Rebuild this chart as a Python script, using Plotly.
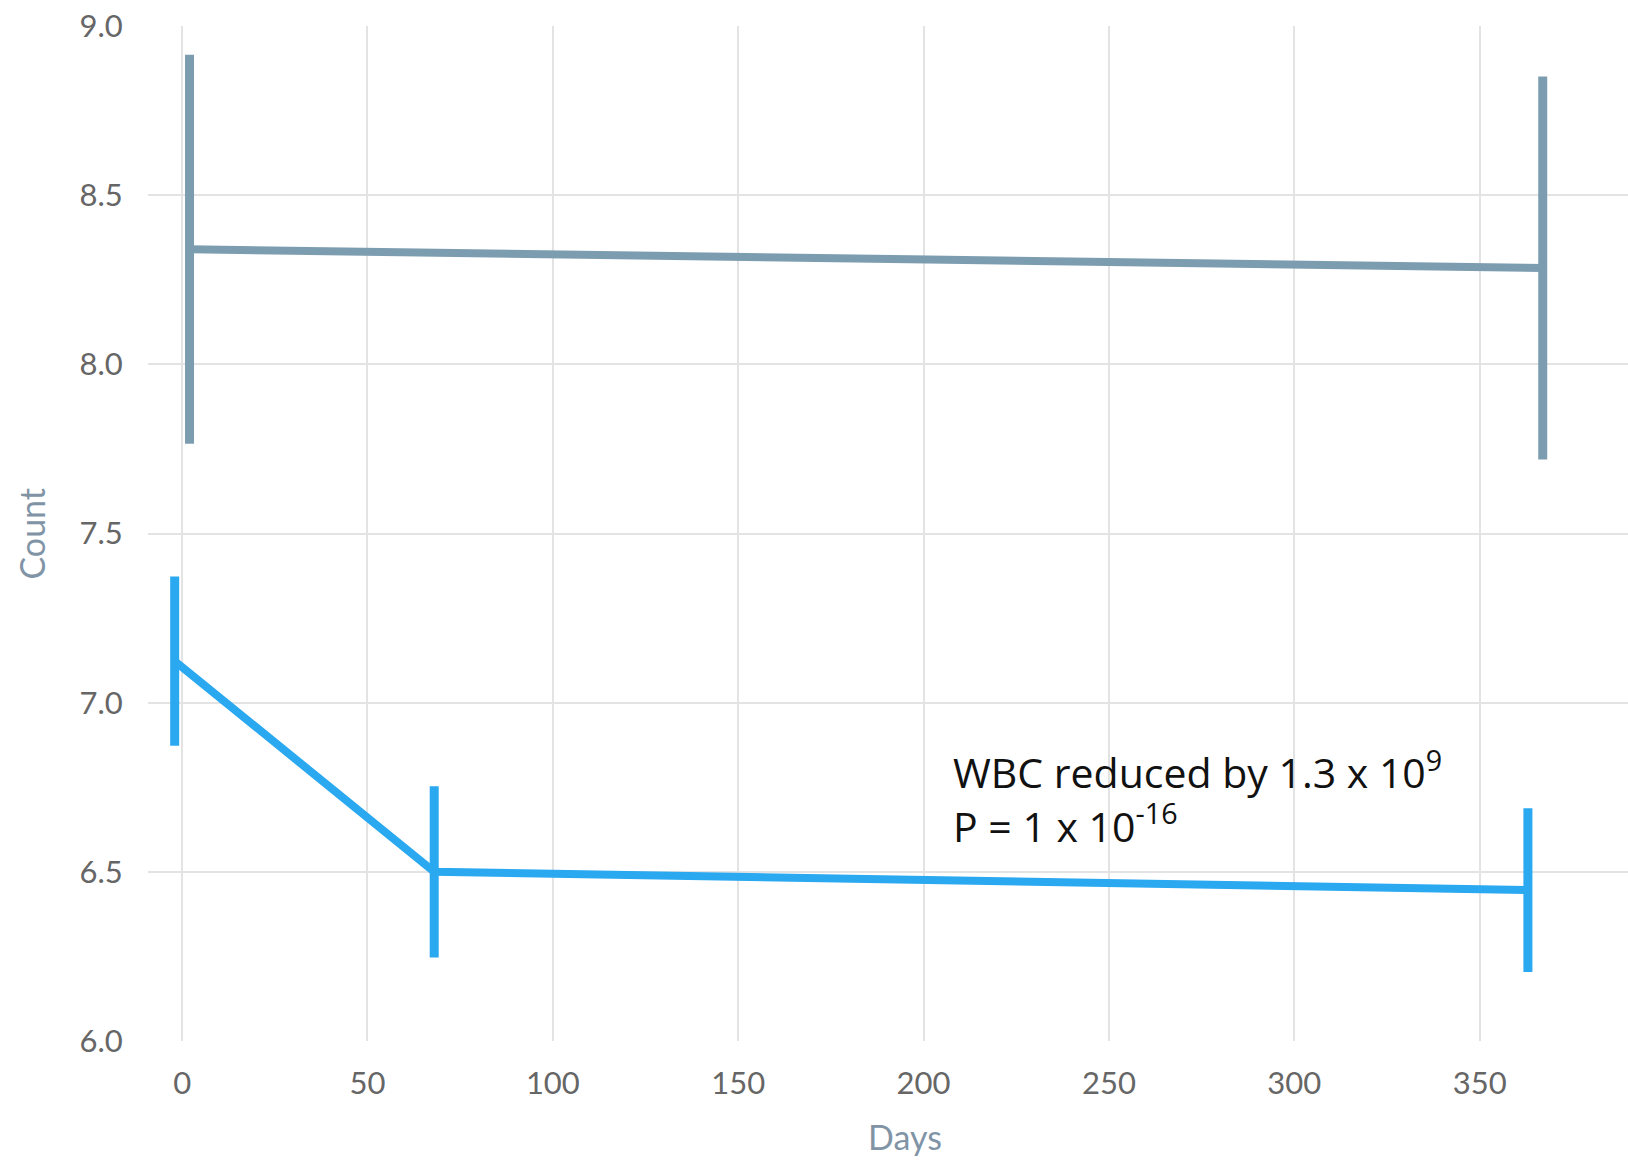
import plotly.graph_objects as go

# Data
grey_days = [2, 367]
grey_count = [8.34, 8.285]
grey_err = [0.575, 0.566]

blue_days = [-2, 68, 363]
blue_count = [7.123, 6.50, 6.446]
blue_err = [0.25, 0.253, 0.242]

x_ticks = [0, 50, 100, 150, 200, 250, 300, 350]
y_ticks = [6.0, 6.5, 7.0, 7.5, 8.0, 8.5, 9.0]

GREY = "#7c9db0"
BLUE = "#2aa8f0"
TITLE = "#8194a6"

fig = go.Figure()
fig.add_trace(go.Scatter(
    x=grey_days, y=grey_count, mode="lines",
    line=dict(color=GREY, width=8),
    error_y=dict(type="data", array=grey_err, color=GREY, thickness=9, width=0),
    showlegend=False, hoverinfo="skip",
))
fig.add_trace(go.Scatter(
    x=blue_days, y=blue_count, mode="lines",
    line=dict(color=BLUE, width=8),
    error_y=dict(type="data", array=blue_err, color=BLUE, thickness=9, width=0),
    showlegend=False, hoverinfo="skip",
))

fig.add_annotation(
    x=207.5, y=6.895, xref="x", yref="y", xanchor="left", yanchor="top",
    text="WBC reduced by 1.3 x 10<sup>9</sup><br>P = 1 x 10<sup>-16</sup>",
    showarrow=False, align="left",
    font=dict(family="Open Sans", size=41, color="#111111"),
)

# Axis titles
fig.add_annotation(
    x=0.5115, y=0, xref="paper", yref="paper", xanchor="center", yanchor="middle",
    yshift=-95, text="Days", showarrow=False,
    font=dict(family="Lato", size=34, color=TITLE),
)
fig.add_annotation(
    x=0, y=0.5, xref="paper", yref="paper", xanchor="center", yanchor="middle",
    xshift=-117, text="Count", textangle=-90, showarrow=False,
    font=dict(family="Lato", size=34, color=TITLE),
)

fig.update_layout(
    width=1628, height=1162,
    margin=dict(l=148, r=0, t=26, b=121),
    paper_bgcolor="white", plot_bgcolor="white",
    font=dict(family="Lato", color="#666666"),
    xaxis=dict(
        range=[-9.2, 390], tickvals=x_ticks, ticktext=[str(v) for v in x_ticks],
        showgrid=True, gridcolor="#e3e3e3", gridwidth=2, zeroline=False,
        showline=False, ticks="outside", ticklen=15, tickcolor="rgba(0,0,0,0)",
        tickfont=dict(size=31, color="#666666"),
    ),
    yaxis=dict(
        range=[6.0, 9.0], tickvals=y_ticks, ticktext=[f"{v:.1f}" for v in y_ticks],
        showgrid=True, gridcolor="#e3e3e3", gridwidth=2, zeroline=False,
        showline=False, ticks="outside", ticklen=18, tickcolor="rgba(0,0,0,0)",
        tickfont=dict(size=31, color="#666666"),
    ),
)

fig.write_html("out.html")
